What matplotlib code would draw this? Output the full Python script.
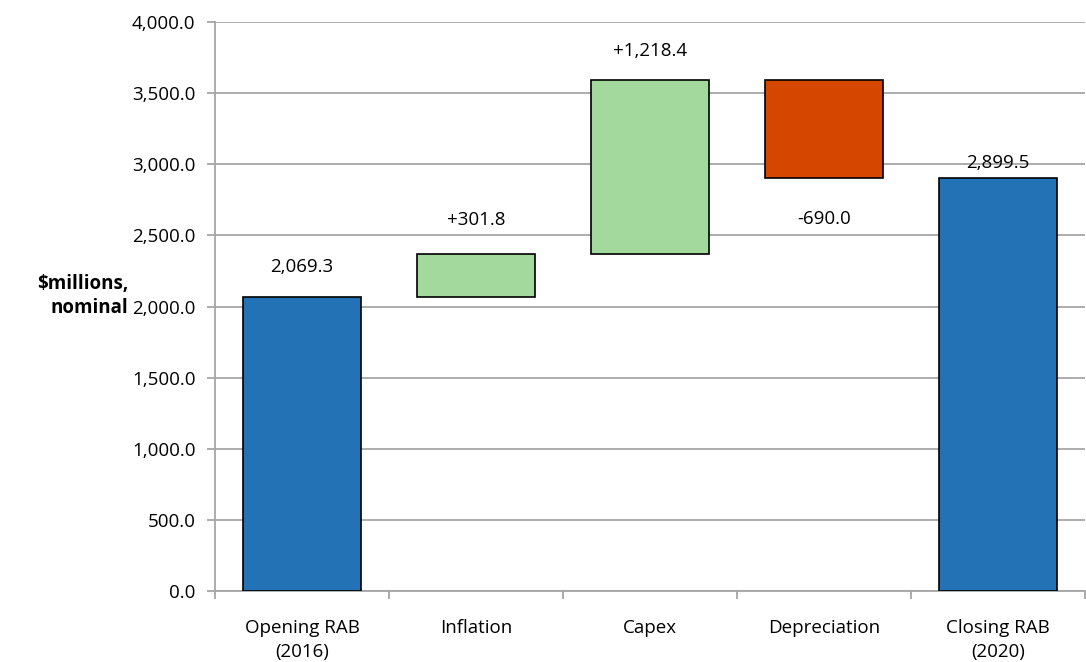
import matplotlib
matplotlib.use("Agg")
import matplotlib.pyplot as plt
from matplotlib.ticker import FuncFormatter, MultipleLocator, FixedLocator

plt.rcParams['font.family'] = ['Open Sans', 'DejaVu Sans']

categories = ["Opening RAB\n(2016)", "Inflation", "Capex", "Depreciation", "Closing RAB\n(2020)"]
changes = [2069.3, 301.8, 1218.4, -690.0, 2899.5]
kinds = ["total", "delta", "delta", "delta", "total"]
labels = ["2,069.3", "+301.8", "+1,218.4", "-690.0", "2,899.5"]

colors = {"total": "#2372B6", "up": "#A3D99C", "down": "#D54600"}
label_offsets_pt = [21, 24, 21, -29, 11.5]

bottoms, heights, fills = [], [], []
running = 0.0
for v, k in zip(changes, kinds):
    if k == "total":
        bottoms.append(0.0)
        heights.append(v)
        fills.append(colors["total"])
        running = v
    else:
        if v >= 0:
            bottoms.append(running)
            heights.append(v)
            fills.append(colors["up"])
        else:
            bottoms.append(running + v)
            heights.append(-v)
            fills.append(colors["down"])
        running += v

FS = 13.5

fig = plt.figure(figsize=(10.86, 6.62), dpi=100)
ax = fig.add_axes([0.198, 0.107, 0.801, 0.860])

x = list(range(len(categories)))
ax.bar(x, heights, bottom=bottoms, width=0.675, color=fills,
       edgecolor="black", linewidth=1.2, zorder=3)

for i, (b, h, v, lab, off) in enumerate(zip(bottoms, heights, changes, labels, label_offsets_pt)):
    yref = b + h if off > 0 else b
    ax.annotate(lab, (i, yref), xytext=(0, off), textcoords="offset points",
                ha="center", va="center", fontsize=FS, color="black")

ax.set_xlim(-0.5, len(categories) - 0.5)
ax.set_ylim(0, 4000)
ax.yaxis.set_major_locator(MultipleLocator(500))
ax.yaxis.set_major_formatter(FuncFormatter(lambda v, p: f"{v:,.1f}"))
ax.grid(axis="y", color="#A6A6A6", linewidth=1.3, zorder=0)

ax.set_xticks(x)
ax.set_xticklabels(categories, fontsize=FS, linespacing=1.4)
ax.xaxis.set_minor_locator(FixedLocator([i - 0.5 for i in range(len(categories) + 1)]))
ax.tick_params(axis="x", which="major", length=0, pad=20)
ax.tick_params(axis="x", which="minor", length=6, color="#A6A6A6", width=1.3)
ax.tick_params(axis="y", length=6, color="#A6A6A6", width=1.3, labelsize=FS, pad=8)

for s in ["top", "right"]:
    ax.spines[s].set_visible(False)
for s in ["left", "bottom"]:
    ax.spines[s].set_color("#A6A6A6")
    ax.spines[s].set_linewidth(1.3)

fig.text(0.118, 0.553, "$millions,\nnominal", ha="right", va="center",
         fontsize=FS, fontweight="bold", linespacing=1.3)

fig.savefig("out.png", dpi=100)
